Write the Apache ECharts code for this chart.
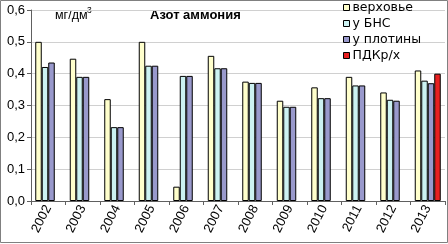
<!DOCTYPE html>
<html><head><meta charset="utf-8">
<script src="https://cdn.jsdelivr.net/npm/echarts@6/dist/echarts.min.js"></script>
<style>html,body{margin:0;padding:0;background:#fff}#c{width:448px;height:244px}</style>
</head><body><div id="c"></div>
<script>
const categories = ['2002','2003','2004','2005','2006','2007','2008','2009','2010','2011','2012','2013'];
const upper = [0.50, 0.447, 0.32, 0.50, 0.045, 0.456, 0.375, 0.315, 0.357, 0.39, 0.341, 0.41];
const bns   = [0.421, 0.39, 0.232, 0.425, 0.393, 0.417, 0.371, 0.296, 0.323, 0.363, 0.318, 0.378];
const dam   = [0.435, 0.39, 0.232, 0.425, 0.393, 0.417, 0.371, 0.296, 0.323, 0.363, 0.315, 0.37];
const pdk   = [null, null, null, null, null, null, null, null, null, null, null, 0.40];
const names = ['верховье','у БНС','у плотины','ПДКр/х'];
const colors = ['#FFFFCC','#CCF2F2','#9999CC','#E82020'];
const font = 'Liberation Sans, Arial, sans-serif';
const chart = echarts.init(document.getElementById('c'));
const mk = (i, d) => ({
  name: names[i], type: 'bar', data: d, barWidth: 6.5, barGap: '0%',
  itemStyle: {color: colors[i], borderColor: '#000', borderWidth: 1}
});
chart.setOption({
  animation: false,
  textStyle: {fontFamily: font},
  grid: {left: 31, right: 3, top: 10, bottom: 43},
  graphic: [
    {type: 'rect', shape: {x: 0.5, y: 0.5, width: 447, height: 242}, style: {fill: 'none', stroke: '#808080', lineWidth: 1}, z: 100},
    {type: 'text', left: 55, top: 9, style: {text: 'мг/дм', font: '12.5px ' + font, fill: '#000'}},
    {type: 'text', left: 87, top: 6, style: {text: '3', font: '8.5px ' + font, fill: '#000'}},
    {type: 'text', left: 150, top: 9, style: {text: 'Азот аммония', font: 'bold 13px ' + font, fill: '#000'}}
  ],
  legend: {
    orient: 'vertical', left: 343, top: 0, itemWidth: 6, itemHeight: 6, itemGap: 1,
    padding: [0, 0, 0, 0],
    textStyle: {fontSize: 12.5, fontFamily: 'DejaVu Sans, sans-serif', color: '#000', padding: [0, 0, 0, -2], lineHeight: 15},
    icon: 'rect',
    data: names.map((n, i) => ({name: n, itemStyle: {borderColor: '#000', borderWidth: 1}}))
  },
  xAxis: {
    type: 'category', data: categories,
    axisLine: {lineStyle: {color: '#606060'}},
    axisTick: {show: true, length: 4, lineStyle: {color: '#606060'}},
    axisLabel: {rotate: 63, fontSize: 13, color: '#000', margin: 5}
  },
  yAxis: {
    type: 'value', min: 0, max: 0.6, interval: 0.1,
    axisLine: {show: true, lineStyle: {color: '#606060'}},
    axisTick: {show: true, length: 4, lineStyle: {color: '#606060'}},
    splitLine: {lineStyle: {color: '#d0d0d0'}},
    axisLabel: {fontSize: 13, color: '#000', margin: 6, formatter: v => v.toFixed(1).replace('.', ',')}
  },
  series: [mk(0, upper), mk(1, bns), mk(2, dam), mk(3, pdk)]
});
</script></body></html>
